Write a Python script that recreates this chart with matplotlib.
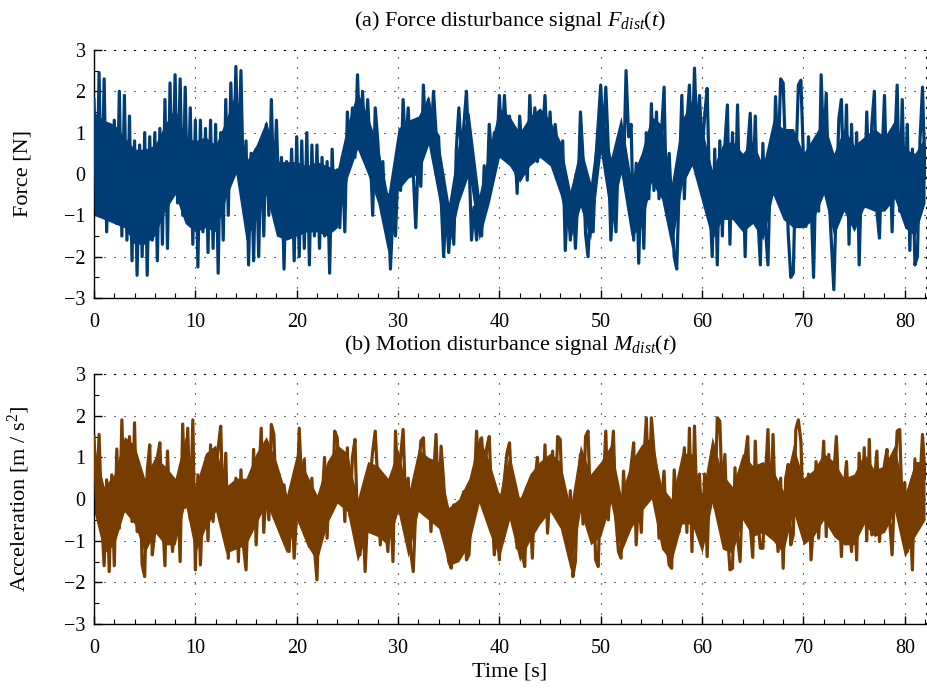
import numpy as np
import matplotlib.pyplot as plt
from matplotlib.ticker import MultipleLocator

# force disturbance, every 0.25 s (t = 0 .. 82)
force = [
    1.8, -0.9, 2.45, -1.0, 2.3, -1.4, 1.1, -0.6,
    1.3, -1.2, 2.0, -1.5, 1.9, -1.6, 1.4, -2.1,
    0.8, -2.45, 0.7, -2.0, 1.0, -2.45, 0.9, -1.6,
    1.0, -2.1, 1.1, -1.7, 1.8, -1.8, 2.2, -0.5,
    2.4, -0.7, 2.3, -1.0, 2.1, -0.9, 1.6, -1.7,
    1.3, -2.25, 1.3, -1.4, 1.1, -1.9, 1.3, -1.8,
    1.2, -2.4, 1.0, -1.6, 1.8, -1.0, 2.2, 0.0,
    2.6, 0.1, 2.5, -0.5, 0.8, -2.2, 0.5, -2.1,
    0.6, -2.0, 0.8, -1.5, 1.2, -1.0, 1.8, -0.6,
    1.3, -0.7, 0.4, -2.3, 0.3, -1.4, 0.6, -2.1,
    0.9, -2.0, 0.8, -1.8, 1.0, -2.2, 0.7, -1.5,
    0.7, -1.8, 0.4, -1.5, 0.3, -2.4, 0.6, -1.3,
    0.1, -1.3, 0.4, -1.4, 1.5, 0.3, 1.6, 0.4,
    2.4, 0.6, 2.0, 0.5, 1.8, 0.6, -1.0, 1.6,
    0.8, -0.2, 0.3, -1.2, -0.5, -2.3, -0.9, -1.5,
    0.2, -0.4, 1.8, 0.5, 1.6, 0.2, 0.0, -1.3,
    0.5, -0.3, 2.15, 0.8, 1.8, 0.7, 2.0, 1.0,
    0.9, -0.6, -2.0, -0.7, -1.9, -0.9, -1.7, 0.6,
    1.6, 0.5, 1.2, 2.0, 0.4, -1.6, -0.8, -1.6,
    -0.8, -1.5, 0.2, -0.6, 1.2, 0.3, 1.0, 0.6,
    1.9, 0.6, 1.9, 0.7, 1.4, 0.3, 0.9, -0.47,
    1.4, 0.5, 1.0, -0.15, 1.9, 0.5, 1.6, 0.3,
    1.1, 0.9, 1.9, 0.4, 1.5, 0.2, 1.2, 0.6,
    0.0, 0.8, -1.85, -0.5, -1.6, -0.35, -1.8, -0.5,
    1.5, 0.4, -1.44, -2.0, -0.55, -1.4, 0.3, 1.2,
    2.15, 0.8, 2.1, 0.6, -1.6, -0.5, -1.4, 0.6,
    0.9, 0.0, 2.5, 0.9, 1.2, -1.6, 0.26, -2.16,
    0.2, -1.8, 1.0, -0.6, 1.7, -0.4, 1.5, -0.6,
    1.0, 2.1, -1.0, 0.5, -0.8, -2.0, -2.3, -0.2,
    1.9, -0.6, 1.2, 2.15, 0.3, 2.56, 0.8, 1.9,
    0.5, 1.4, 2.07, -0.55, -2.0, 0.6, -2.2, 0.8,
    -1.5, 0.7, 1.67, -1.7, 1.0, -0.8, 1.67, -1.2,
    0.4, -2.0, 0.6, 1.47, -0.6, 1.4, -1.0, -2.2,
    0.74, -1.3, -2.2, 0.3, -0.5, 1.87, 0.2, 2.3,
    2.2, 0.4, -1.44, -2.5, -2.4, 0.2, 2.15, 2.27,
    0.4, -1.27, 0.9, -0.6, -2.5, 0.3, -0.9, 2.4,
    0.5, 1.95, -0.4, -1.6, -2.8, -0.6, 1.35, 1.8,
    -0.5, 1.67, -1.7, 1.2, -0.9, 1.0, -2.2, 0.2,
    -0.8, 1.5, -0.5, 1.2, 2.0, -0.9, -1.55, 0.4,
    1.9, -0.6, 0.8, -1.4, 0.6, 2.15, -0.9, 1.8,
    -0.8, 1.2, -1.85, 0.6, -2.2, -2.0, 0.8, 2.1,
    -0.1,
]

# where the force trace is solid ink (every 1 s, t = 0 .. 82)
force_core_hi = [
    1.5, 1.3, 1.2, 0.9, 0.6, 0.6, 0.7, 1.2, 1.6, 0.9,
    0.8, 0.9, 0.7, 1.3, 2.0, 0.3, 0.7, 1.3, 0.3, 0.3,
    0.3, 0.2, 0.3, 0.2, 0.1, 1.2, 2.0, 1.4, 0.7, -0.5,
    1.1, 1.3, 1.4, 1.9, 0.8, -0.7, 0.8, 1.5, -0.5, 0.6,
    1.6, 1.4, 1.0, 1.4, 1.6, 1.3, 0.8, -0.4, 0.7, -0.2,
    1.7, 0.4, 1.4, -0.1, 0.5, 1.4, 1.2, -0.2, 1.3, 1.8,
    1.1, 0.1, 0.7, 0.8, 0.5, 0.8, 0.2, 1.3, 1.1, 1.1,
    0.5, 0.9, 1.3, 0.5, 1.1, 0.7, 0.9, 1.1, 0.9, 1.3,
    0.6, 0.5, 0.9,
]
force_core_lo = [
    -1.0, -1.1, -1.2, -1.3, -1.7, -1.7, -1.5, -0.9, -0.5, -1.2,
    -1.4, -1.3, -1.4, -0.6, 0.0, -1.6, -1.1, -0.5, -1.5, -1.6,
    -1.5, -1.4, -1.4, -1.5, -1.3, -0.1, 0.6, 0.0, -0.7, -1.9,
    -0.4, -0.1, 0.0, 0.7, -0.6, -1.8, -0.7, 0.0, -1.6, -0.7,
    0.4, 0.2, -0.2, 0.2, 0.4, 0.2, -0.5, -1.6, -0.8, -1.6,
    0.5, -1.1, 0.0, -1.5, -1.3, -0.2, -0.6, -1.8, -0.3, 0.2,
    -0.7, -1.6, -1.1, -1.1, -1.4, -1.2, -1.6, -0.5, -1.1, -1.3,
    -1.3, -1.1, -0.5, -1.5, -0.9, -1.4, -0.8, -0.9, -0.9, -0.6,
    -1.3, -1.5, -0.7,
]

# motion disturbance (acceleration), same sampling
motion = [
    1.5, 0.0, 1.55, -0.4, -1.6, 0.46, -1.74, 0.58,
    -1.6, 1.2, -0.7, 1.9, -0.3, 0.6, 1.5, -0.54,
    1.83, -0.78, 0.75, -1.58, -1.86, 0.67, 1.3, -1.34,
    -0.78, 1.0, 1.35, -0.4, -1.6, 1.15, -0.5, -1.26,
    -0.46, 0.18, -1.5, 1.8, -0.2, 1.7, -0.5, 1.9,
    -1.7, 0.58, -1.58, 0.1, 0.9, -1.0, 1.3, -0.54,
    0.58, 1.22, 1.75, -0.46, 1.1, -1.42, 0.2, -1.18,
    0.5, -1.5, 0.7, -1.14, -1.7, 0.18, -0.8, 1.19,
    -1.1, 0.4, 1.7, -0.8, 0.42, -0.5, 1.79, 1.55,
    -0.38, 0.6, -0.86, 0.34, -0.14, -1.26, 0.2, -1.42,
    -0.3, 1.7, 0.3, 0.95, -0.6, -1.14, 0.5, -1.2,
    -1.94, 0.1, -0.06, 1.0, -0.94, 0.8, -0.3, 1.63,
    1.47, 0.18, 1.0, -0.54, 1.23, -0.4, 1.0, 1.43,
    -0.62, -1.34, 0.0, -1.74, -0.38, 0.5, 1.15, 1.63,
    0.4, -1.1, 0.14, -0.6, -1.26, 0.0, -1.5, 1.63,
    0.18, 1.0, 1.67, -0.14, 0.5, -1.26, -1.74, -0.22,
    0.5, 1.39, 1.47, 0.0, 0.6, -0.78, 0.5, 1.55,
    -0.3, 1.27, 0.42, -0.94, -1.5, -1.66, -0.14, -1.2,
    -1.02, 0.0, 0.18, -1.46, -1.34, -0.14, 0.2, 1.63,
    0.2, 1.47, 0.3, 1.23, 1.5, -0.14, -1.34, -0.5,
    -1.46, 0.0, 0.5, 1.1, 1.35, 0.06, -0.4, -1.18,
    0.0, -1.3, -1.62, 0.3, 0.0, -1.42, 0.4, 1.0,
    0.2, -0.38, 1.3, -0.82, 0.2, 1.15, -0.3, 1.5,
    1.43, -0.3, -0.38, -1.1, 0.2, -1.86, -1.5, 0.26,
    1.07, -0.6, 1.5, 1.63, -0.3, 0.4, -1.46, -1.62,
    0.4, 0.26, 1.63, -0.5, 0.8, 1.63, -0.5, -1.26,
    -1.42, 0.67, -0.4, 0.1, 0.8, 1.35, -1.1, 0.18,
    -0.8, 0.9, 1.95, 0.0, 1.95, 1.15, 0.67, -0.94,
    0.0, 0.67, -1.0, -1.58, -1.66, 0.7, -0.14, -0.78,
    0.4, 1.23, -0.8, 1.7, -1.26, 1.75, -0.3, 0.6,
    -1.1, 0.6, -1.38, 0.58, 0.67, -0.2, 1.95, 1.87,
    0.0, 1.07, -0.78, -1.7, -1.66, 0.75, -0.94, -1.5,
    0.3, 1.0, 1.5, -0.62, -1.4, 1.39, -0.5, -1.18,
    -1.18, 0.5, 1.67, -0.5, 1.55, -0.46, -1.26, 0.5,
    -1.66, 0.5, 0.83, -1.1, -0.86, 1.67, 1.9, 1.39,
    -0.6, -0.3, 0.6, -1.46, -0.54, 0.9, -0.94, 0.3,
    1.39, -0.9, 1.07, -0.5, 0.6, 1.5, 0.0, -1.38,
    0.2, 0.9, -0.5, -1.26, 0.3, -1.46, 1.1, -0.6,
    1.23, -1.0, 1.43, -0.86, 0.4, 1.15, -1.02, -0.2,
    0.83, 1.19, -0.5, -1.34, 0.3, 1.63, 1.67, -0.3,
    0.4, -1.26, -0.2, -1.7, 0.95, -0.54, 0.4, 1.55,
    0.5,
]

motion_core_hi = [
    1.3, 0.3, 0.6, 1.5, 1.3, 0.5, 1.0, 0.8, 0.5, 1.5,
    0.3, 1.1, 1.3, 0.3, 0.5, 0.5, 1.1, 1.5, 0.9, 0.1,
    1.1, 0.6, 0.1, 0.9, 1.3, 1.1, 0.0, 0.9, 0.8, 0.5,
    1.2, 0.1, 1.2, 1.0, 0.9, -0.2, 0.0, 0.5, 1.5, 0.9,
    0.1, 1.1, 0.0, 0.6, 0.9, 1.1, 0.9, -0.2, 1.3, 0.6,
    0.9, 1.3, 0.1, 0.9, 1.3, 1.5, 0.3, 0.0, 1.1, 1.1,
    0.1, 1.5, 0.6, 0.3, 1.1, 0.8, 0.9, 0.7, 0.2, 1.3,
    0.5, 0.7, 1.1, 0.9, 0.5, 0.6, 1.1, 0.7, 0.8, 1.3,
    0.1, 0.9, 0.9,
]
motion_core_lo = [
    -0.3, -1.3, -1.1, -0.3, -0.6, -1.3, -0.8, -1.1, -1.1, -0.1,
    -1.3, -0.7, -0.3, -1.3, -1.2, -1.1, -0.6, -0.1, -0.7, -1.3,
    -0.5, -1.1, -1.5, -0.6, -0.1, -0.3, -1.5, -0.8, -0.9, -1.1,
    -0.3, -1.4, -0.3, -0.5, -0.7, -1.6, -1.5, -1.1, -0.1, -0.8,
    -1.4, -0.5, -1.5, -1.0, -0.6, -0.3, -0.7, -1.7, -0.3, -1.1,
    -0.9, -0.1, -1.3, -0.7, -0.3, 0.0, -1.2, -1.5, -0.6, -0.6,
    -1.3, -0.1, -1.2, -1.3, -0.5, -0.9, -0.8, -1.0, -1.3, -0.3,
    -1.1, -0.9, -0.5, -0.9, -1.1, -1.1, -0.6, -0.9, -0.8, -0.3,
    -1.4, -0.9, -0.5,
]

t_end = 82.0

titles = [r"(a) Force disturbance signal $F_{dist}(t)$",
          r"(b) Motion disturbance signal $M_{dist}(t)$"]
ylabels = ["Force [N]", r"Acceleration [m / s$^2$]"]
colors = ["#003d74", "#773c00"]


def style_axis(ax):
    ax.set_xlim(0, 82.1)
    ax.set_ylim(-3, 3)
    ax.xaxis.set_major_locator(MultipleLocator(10))
    ax.xaxis.set_minor_locator(MultipleLocator(2))
    ax.yaxis.set_major_locator(MultipleLocator(1))
    ax.yaxis.set_minor_locator(MultipleLocator(0.5))
    ax.tick_params(which="both", direction="in", top=False, right=False,
                   labelsize=14.5)
    ax.tick_params(axis="x", pad=11)
    ax.tick_params(axis="y", pad=6)
    ax.tick_params(which="major", length=6, width=1)
    ax.tick_params(which="minor", length=3.5, width=0.8)
    ax.grid(True, which="major", color="black", linestyle=(0, (1, 8)), linewidth=0.8)
    for side in ["top", "right"]:
        ax.spines[side].set_linestyle((0, (1, 8)))
        ax.spines[side].set_linewidth(0.8)
    for side in ["left", "bottom"]:
        ax.spines[side].set_linewidth(1.0)


def main():
    plt.rcParams["font.family"] = ["Liberation Serif", "DejaVu Serif"]
    plt.rcParams["mathtext.fontset"] = "custom"
    plt.rcParams["mathtext.rm"] = "Liberation Serif"
    plt.rcParams["mathtext.it"] = "Liberation Serif:italic"

    fig = plt.figure(figsize=(9.28, 6.89), dpi=100)
    ax1 = fig.add_axes([0.1013, 0.5675, 0.8966, 0.36])
    ax2 = fig.add_axes([0.1013, 0.0943, 0.8966, 0.3628])

    panels = [(ax1, force, force_core_lo, force_core_hi),
              (ax2, motion, motion_core_lo, motion_core_hi)]
    for (ax, sig, lo, hi), title, ylab, col in zip(panels, titles, ylabels, colors):
        t = np.linspace(0, t_end, len(sig))
        tc = np.linspace(0, t_end, len(lo))
        # dense part of the trace, then the spikes on top
        ax.fill_between(tc, lo, hi, color=col, linewidth=0, zorder=2)
        ax.plot(t, sig, color=col, linewidth=2.3, zorder=3)
        style_axis(ax)
        ax.set_title(title, fontsize=16, pad=17)
        ax.set_ylabel(ylab, fontsize=16)
        ax.yaxis.set_label_coords(-0.074, 0.5)

    ax2.set_xlabel("Time [s]", fontsize=16, labelpad=3)

    fig.savefig("out.png", dpi=100)


if __name__ == "__main__":
    main()
